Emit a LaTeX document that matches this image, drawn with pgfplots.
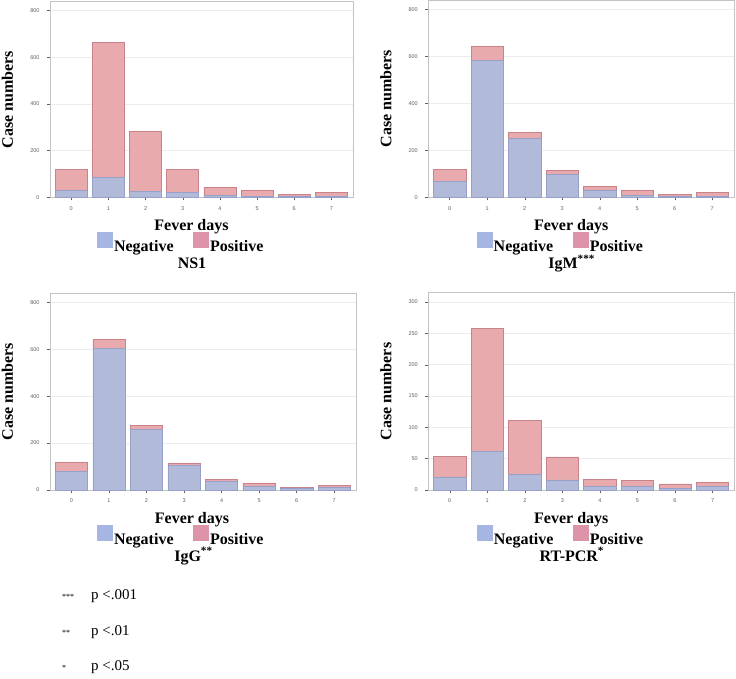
\documentclass[border=0pt]{standalone}
\usepackage{fontspec}
\setmainfont{Liberation Serif}
\newfontfamily\arialfont{Liberation Sans}
\usepackage{pgfplots}
\usepackage{pgfplotstable}
\pgfplotsset{compat=1.18}

\definecolor{negfill}{RGB}{177,186,216}
\definecolor{posfill}{RGB}{232,170,172}
\definecolor{negdraw}{RGB}{150,160,200}
\definecolor{posdraw}{RGB}{200,130,140}
\definecolor{legneg}{RGB}{165,182,226}
\definecolor{legpos}{RGB}{222,148,168}
\definecolor{framegray}{RGB}{195,195,195}
\definecolor{gridgray}{RGB}{236,236,236}
\definecolor{tickgray}{RGB}{95,95,95}

\pgfplotstableread{
day neg pos
0 30 90
1 84 580
2 24 257
3 20 100
4 9 35
5 4 25
6 3 11
7 4 17
}\nsone
\pgfplotstableread{
day neg pos
0 67 52
1 582 59
2 250 27
3 98 18
4 28 17
5 7 24
6 3 10
7 4 17
}\igm
\pgfplotstableread{
day neg pos
0 78 40
1 604 38
2 259 18
3 104 12
4 38 6
5 17 13
6 7 4
7 11 9
}\igg
\pgfplotstableread{
day neg pos
0 21 33
1 62 196
2 25 86
3 16 37
4 6 11
5 6 9.5
6 3 6.6
7 6 6
}\rtpcr

\pgfplotsset{
  panel/.style={
    scale only axis,
    ybar stacked,
    bar width=0.86,
    xmin=-0.57, xmax=7.58,
    ymin=0,
    xtick={0,1,...,7},
    ymajorgrids,
    grid style={color=gridgray, line width=0.5pt},
    axis line style={framegray, line width=0.6pt},
    tick style={color=tickgray, line width=0.4pt},
    major tick length=3pt,
    tick align=outside,
    xtick pos=bottom, ytick pos=left,
    /pgf/number format/assume math mode=true,
    ticklabel style={font=\arialfont\fontsize{5.5}{6}\selectfont, text=tickgray},
    yticklabel style={xshift=-4pt},
    xticklabel style={yshift=-2.5pt},
    every axis y label/.style={at={(rel axis cs:0,0.5)}, anchor=center, rotate=90, yshift=42.5pt},
    ylabel={Case numbers},
    xlabel={Fever days},
    label style={font=\bfseries\fontsize{16}{18}\selectfont},
    xlabel style={at={(rel axis cs:0.5,0)}, anchor=base, yshift=-33pt, xshift=-10pt},
    every axis title/.style={at={(rel axis cs:0.5,0)}, anchor=base, yshift=-71pt, xshift=-9.5pt, font=\bfseries\fontsize{16}{18}\selectfont},
    legend style={at={(rel axis cs:0.5,0)}, anchor=center, xshift=-20.5pt, yshift=-46pt,
      draw=none, fill=none, legend columns=2,
      font=\bfseries\fontsize{16}{18}\selectfont,
      nodes={inner sep=1.5pt},
      /tikz/every even column/.append style={column sep=18pt}},
  },
  negplot/.style={fill=negfill, draw=negdraw, line width=0.5pt,
    legend image code/.code={\fill[legneg] (0pt,-1pt) rectangle (15pt,14pt);}},
  posplot/.style={fill=posfill, draw=posdraw, line width=0.5pt,
    legend image code/.code={\fill[legpos] (0pt,-1pt) rectangle (15pt,14pt);}},
}

\begin{document}
\begin{tikzpicture}
% NS1
\begin{axis}[panel, at={(50pt,480.7pt)}, anchor=south west, width=303pt, height=195.5pt,
  ymax=838, ytick={0,200,...,800}, title={NS1}]
\addplot[negplot] table[x=day, y=neg] {\nsone};
\addplot[posplot] table[x=day, y=pos] {\nsone};
\legend{Negative, Positive}
\end{axis}
% IgM
\begin{axis}[panel, at={(428.3pt,480.7pt)}, anchor=south west, width=305.7pt, height=197pt,
  ymax=838, ytick={0,200,...,800}, title={IgM\textsuperscript{***}}]
\addplot[negplot] table[x=day, y=neg] {\igm};
\addplot[posplot] table[x=day, y=pos] {\igm};
\legend{Negative, Positive}
\end{axis}
% IgG
\begin{axis}[panel, at={(50pt,188pt)}, anchor=south west, width=306pt, height=196.6pt,
  ymax=838, ytick={0,200,...,800}, title={IgG\textsuperscript{**}},
  xlabel style={xshift=-1pt}, legend style={xshift=-1.5pt}]
\addplot[negplot] table[x=day, y=neg] {\igg};
\addplot[posplot] table[x=day, y=pos] {\igg};
\legend{Negative, Positive}
\end{axis}
% RT-PCR
\begin{axis}[panel, at={(428.3pt,188pt)}, anchor=south west, width=306pt, height=197.3pt,
  ymax=315, ytick={0,50,...,300}, title={RT-PCR\textsuperscript{*}}]
\addplot[negplot] table[x=day, y=neg] {\rtpcr};
\addplot[posplot] table[x=day, y=pos] {\rtpcr};
\legend{Negative, Positive}
\end{axis}
% footnotes
\node[anchor=base west, inner sep=0pt, font=\fontsize{8}{8}\selectfont] at (62pt,79pt) {***};
\node[anchor=base west, inner sep=0pt, font=\fontsize{15}{15}\selectfont] at (91pt,79pt) {p <.001};
\node[anchor=base west, inner sep=0pt, font=\fontsize{8}{8}\selectfont] at (62pt,43pt) {**};
\node[anchor=base west, inner sep=0pt, font=\fontsize{15}{15}\selectfont] at (91pt,42.3pt) {p <.01};
\node[anchor=base west, inner sep=0pt, font=\fontsize{8}{8}\selectfont] at (62pt,8pt) {*};
\node[anchor=base west, inner sep=0pt, font=\fontsize{15}{15}\selectfont] at (91pt,7.3pt) {p <.05};
\pgfresetboundingbox
\path[use as bounding box] (0pt,0pt) rectangle (736pt,678pt);
\end{tikzpicture}
\end{document}
